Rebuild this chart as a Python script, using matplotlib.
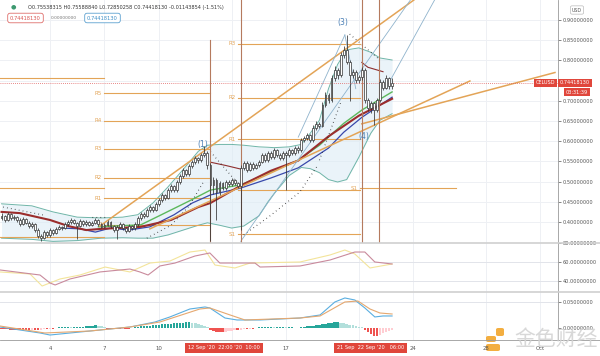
import numpy as np
import matplotlib.pyplot as plt
from matplotlib.patches import FancyBboxPatch

# === CELUSD 4h candles, 1 Sep - 22 Sep 2020 (index 0 = 1 Sep 08:00) ===
first_open = 0.410
close = [0.415, 0.405, 0.420, 0.410, 0.413, 0.405, 0.395, 0.408, 0.398, 0.390,
         0.395, 0.380, 0.365, 0.360, 0.375, 0.368, 0.380, 0.373, 0.383, 0.388,
         0.385, 0.395, 0.400, 0.405, 0.398, 0.390, 0.403, 0.395, 0.400, 0.393,
         0.398, 0.405, 0.395, 0.388, 0.393, 0.400, 0.390, 0.380, 0.388, 0.395,
         0.385, 0.378, 0.390, 0.385, 0.395, 0.410, 0.420, 0.415, 0.430, 0.437,
         0.430, 0.445, 0.455, 0.467, 0.460, 0.479, 0.489, 0.479, 0.499, 0.514,
         0.529, 0.519, 0.539, 0.549, 0.558, 0.553, 0.566, 0.571, 0.541, 0.492,
         0.504, 0.474, 0.497, 0.484, 0.499, 0.494, 0.504, 0.497, 0.489, 0.534,
         0.546, 0.529, 0.544, 0.534, 0.541, 0.549, 0.566, 0.553, 0.571, 0.561,
         0.578, 0.566, 0.558, 0.571, 0.566, 0.578, 0.571, 0.583, 0.578, 0.603,
         0.608, 0.615, 0.603, 0.633, 0.643, 0.638, 0.690, 0.714, 0.702, 0.756,
         0.776, 0.764, 0.813, 0.826, 0.796, 0.764, 0.771, 0.751, 0.759, 0.776,
         0.702, 0.682, 0.694, 0.677, 0.702, 0.747, 0.732, 0.756, 0.737, 0.744]
high = [0.422, 0.418, 0.425, 0.423, 0.418, 0.416, 0.409, 0.412, 0.411, 0.402,
        0.400, 0.398, 0.384, 0.370, 0.379, 0.378, 0.384, 0.383, 0.387, 0.392,
        0.391, 0.399, 0.405, 0.410, 0.408, 0.401, 0.407, 0.406, 0.404, 0.403,
        0.402, 0.409, 0.407, 0.398, 0.397, 0.404, 0.403, 0.393, 0.392, 0.399,
        0.398, 0.388, 0.394, 0.393, 0.399, 0.414, 0.425, 0.424, 0.434, 0.442,
        0.440, 0.450, 0.460, 0.472, 0.470, 0.484, 0.494, 0.492, 0.503, 0.519,
        0.534, 0.532, 0.544, 0.554, 0.564, 0.562, 0.572, 0.588, 0.575, 0.545,
        0.512, 0.508, 0.502, 0.500, 0.504, 0.503, 0.508, 0.507, 0.500, 0.540,
        0.552, 0.550, 0.549, 0.548, 0.546, 0.554, 0.571, 0.570, 0.576, 0.575,
        0.583, 0.581, 0.570, 0.576, 0.575, 0.583, 0.581, 0.588, 0.587, 0.608,
        0.614, 0.621, 0.619, 0.639, 0.649, 0.648, 0.697, 0.722, 0.720, 0.764,
        0.785, 0.782, 0.822, 0.835, 0.862, 0.800, 0.778, 0.776, 0.765, 0.783,
        0.780, 0.708, 0.700, 0.698, 0.708, 0.755, 0.752, 0.763, 0.760, 0.756]
low = [0.404, 0.400, 0.402, 0.406, 0.405, 0.400, 0.390, 0.392, 0.394, 0.385,
       0.386, 0.376, 0.360, 0.354, 0.357, 0.362, 0.364, 0.369, 0.370, 0.379,
       0.380, 0.382, 0.391, 0.396, 0.394, 0.357, 0.387, 0.391, 0.391, 0.389,
       0.390, 0.395, 0.391, 0.384, 0.385, 0.390, 0.386, 0.376, 0.357, 0.385,
       0.381, 0.372, 0.375, 0.380, 0.381, 0.390, 0.406, 0.410, 0.412, 0.425,
       0.425, 0.427, 0.440, 0.450, 0.454, 0.456, 0.474, 0.474, 0.475, 0.494,
       0.509, 0.514, 0.515, 0.534, 0.544, 0.547, 0.549, 0.560, 0.530, 0.352,
       0.470, 0.405, 0.468, 0.478, 0.480, 0.488, 0.490, 0.492, 0.484, 0.380,
       0.528, 0.524, 0.525, 0.529, 0.530, 0.536, 0.545, 0.548, 0.549, 0.556,
       0.557, 0.561, 0.553, 0.554, 0.480, 0.561, 0.566, 0.567, 0.572, 0.574,
       0.598, 0.603, 0.598, 0.599, 0.628, 0.632, 0.634, 0.684, 0.695, 0.698,
       0.748, 0.755, 0.758, 0.805, 0.790, 0.700, 0.757, 0.745, 0.744, 0.752,
       0.695, 0.675, 0.670, 0.640, 0.672, 0.698, 0.726, 0.728, 0.730, 0.729]

# === Indicator lines (index, value) ===
bb_idx = [0, 10, 17, 25, 33, 40, 45, 50, 55, 60, 65, 68, 72, 76, 80, 85, 88, 90, 95,
          99, 102, 105, 108, 111, 114, 118, 122, 125, 129]
bb_upper = [0.445, 0.440, 0.425, 0.412, 0.410, 0.412, 0.418, 0.447, 0.487, 0.530,
            0.575, 0.590, 0.592, 0.592, 0.590, 0.586, 0.585, 0.584, 0.586, 0.592,
            0.620, 0.652, 0.730, 0.790, 0.826, 0.831, 0.820, 0.806, 0.801]
bb_lower = [0.360, 0.357, 0.352, 0.354, 0.360, 0.361, 0.360, 0.360, 0.368, 0.380,
            0.392, 0.398, 0.392, 0.385, 0.390, 0.415, 0.450, 0.470, 0.515, 0.535,
            0.532, 0.522, 0.505, 0.499, 0.505, 0.560, 0.620, 0.652, 0.668]

ma_red_idx = [0, 6, 16, 22, 28, 33, 46, 56, 65, 69, 79, 89, 98, 108, 118, 129]
ma_red = [0.425, 0.422, 0.405, 0.390, 0.380, 0.383, 0.388, 0.405, 0.437, 0.447,
          0.490, 0.527, 0.552, 0.612, 0.663, 0.705]
ma_green_idx = [32, 46, 52, 62, 69, 79, 89, 98, 105, 113, 119, 129]
ma_green = [0.388, 0.393, 0.415, 0.452, 0.479, 0.492, 0.524, 0.553, 0.590, 0.644,
            0.677, 0.722]
ma_blue_idx = [20, 26, 31, 36, 42, 49, 57, 63, 69, 79, 89, 98, 108, 113, 119, 129]
ma_blue = [0.385, 0.383, 0.375, 0.385, 0.380, 0.388, 0.418, 0.447, 0.467, 0.484,
           0.509, 0.534, 0.583, 0.622, 0.659, 0.709]
# anchored vwap pieces (restart at the vertical lines)
vwap_runs = [([69, 74, 79], [0.548, 0.540, 0.531]),
             ([119, 121, 126], [0.795, 0.783, 0.772])]

# parabolic SAR runs: (index list, value list)
sar_runs = [([0.5, 14], [0.437, 0.417]),
            ([30, 35], [0.412, 0.412]),
            ([48, 56, 62, 67], [0.360, 0.392, 0.440, 0.503]),
            ([69, 79], [0.574, 0.487]),
            ([80, 89, 98.5, 104.5], [0.368, 0.417, 0.474, 0.541]),
            ([105, 112], [0.553, 0.695]),
            ([115, 125], [0.865, 0.801])]

# === Drawings: pivots, trend lines, fan lines, verticals ===
pivot_sets = [
    (-1, 34, [("", 0.484), ("", 0.363), ("", 0.756)]),
    (34, 69, [("R5", 0.719), ("R4", 0.650), ("R3", 0.581), ("R2", 0.510),
              ("R1", 0.459), ("P", 0.393)]),
    (78, 118.5, [("R3", 0.841), ("R2", 0.707), ("R1", 0.605), ("", 0.479),
                 ("S1", 0.370)]),
    (118.5, 150, [("S1", 0.484)]),
]
trend_lines = [([32.5, 136.2], [0.390, 0.9495]),
               ([49, 154.7], [0.383, 0.749]),
               ([119, 182.8], [0.643, 0.770])]
fan_lines = [([79, 135], [0.352, 0.949]),
             ([98, 113.4], [0.610, 0.863]),
             ([113.4, 117], [0.863, 0.730]),
             ([128, 143], [0.745, 0.949])]
vlines = [(68.9, 0.851), (79.1, 0.949), (119, 0.949), (124.7, 0.949)]
wave_labels = [("(1)", 66.5, 0.592), ("(3)", 112.8, 0.895), ("(4)", 119.7, 0.611)]

# === RSI pane ===
rsi_pink_idx = [-0.5, 12.7, 16, 17.7, 22.6, 32.5, 42.4, 45.7, 48.4, 52.3, 57.3, 63.9,
                68.8, 72.1, 83.7, 85.4, 98.6, 108.5, 116.7, 120, 123.3, 129]
rsi_pink = [51.6, 46.3, 37.9, 35.8, 42.1, 49.5, 52.6, 49.5, 46.3, 55.8, 58.9, 66.3,
            69.5, 58.9, 58.9, 54.7, 55.8, 62.1, 70.5, 70.5, 60.0, 57.9]
rsi_yel_idx = [-0.5, 9.4, 13.4, 19.3, 25.9, 34.2, 42.4, 49, 55.6, 62.2, 67.2, 70.5,
               77.1, 82.1, 98.6, 108.5, 113.4, 116.7, 121.7, 129]
rsi_yel = [49.5, 47.4, 34.7, 42.1, 46.3, 54.7, 49.5, 58.9, 61.0, 70.5, 72.6, 56.8,
           53.7, 58.9, 60.0, 67.4, 72.6, 68.4, 53.7, 57.9]

# === MACD pane ===
macd_idx = [-0.5, 12.7, 16, 29.2, 42.4, 50.7, 55.6, 62.2, 67.2, 68.8, 73.8, 77.8,
            85.4, 98.6, 105.2, 110.1, 113.4, 116.7, 120, 123.3, 126, 129]
macd_line = [0.0019, -0.0096, -0.0135, -0.0058, 0.0019, 0.0115, 0.0212, 0.0365,
             0.0404, 0.0385, 0.0192, 0.0154, 0.0154, 0.0192, 0.0250, 0.0500,
             0.0577, 0.0538, 0.0385, 0.0212, 0.0231, 0.0231]
signal_idx = [-0.5, 14.3, 29.2, 42.4, 52.3, 65.5, 68.8, 75.5, 80.4, 98.6, 105.2,
              113.4, 117.7, 121.7, 125, 129]
signal_line = [0.0038, -0.0096, -0.0058, 0.0019, 0.0115, 0.0365, 0.0385, 0.0250,
               0.0154, 0.0192, 0.0231, 0.0500, 0.0519, 0.0365, 0.0288, 0.0269]
hist = [-1, -2, -2, -3, -3, -3, -3, -4, -4, -4, -3, -3, -4, -3, -2, -2, -1, -1, 0, 1,
        1, 2, 2, 1, 1, 1, 2, 2, 3, 3, 4, 5, 4, 3, 1, -1, -1, -2, -2, -2,
        -1, -1, -1, 0, 1, 2, 3, 3, 4, 4, 5, 6, 6, 7, 7, 8, 8, 9, 9, 10,
        10, 11, 11, 10, 9, 8, 6, 4, 1, -3, -5, -7, -8, -8, -7, -6, -5, -4, -4, -3,
        -2, -2, -1, -1, 0, 1, 1, 2, 2, 2, 1, 1, 2, 2, 1, 1, 1, 0, 0, 1,
        2, 3, 3, 4, 5, 6, 7, 8, 9, 10, 11, 11, 10, 9, 7, 6, 5, 3, 2, 1,
        -4, -8, -12, -15, -16, -14, -10, -7, -5, -3]

# time axis
tick_idx = [16, 34, 52, 94, 136, 160, 178]
tick_lab = ["4", "7", "10", "17", "24", "28", "Oct"]
grid_idx = tick_idx + [76, 118]
price_grid = [0.40, 0.45, 0.50, 0.55, 0.60, 0.65, 0.70, 0.75, 0.80, 0.85, 0.90]
price_ticks = [0.40, 0.45, 0.50, 0.55, 0.60, 0.65, 0.70, 0.80, 0.85, 0.90]  # 0.75 hidden by price tag
last_price = 0.74418130

# === Style ===
W, H = 600, 356
GRID = "#eef0f4"
ORANGE = "#e3a457"
TXT = "#555555"
RED = "#e0463b"
XMIN, XMAX = -0.51, 183.8
FS = 3.6


def fx(x):
    return x / W


def fy(y):
    return 1 - y / H


fig = plt.figure(figsize=(6.0, 3.56), dpi=100)
ax = fig.add_axes([0, fy(243), fx(558), 243 / H])
ax_rsi = fig.add_axes([0, fy(292), fx(558), 49 / H])
ax_macd = fig.add_axes([0, fy(340), fx(558), 48 / H])

for a in (ax, ax_rsi, ax_macd):
    a.set_xlim(XMIN, XMAX)
    a.yaxis.tick_right()
    a.tick_params(axis="y", labelsize=FS, colors=TXT, length=2, width=0.5, pad=1.5)
    a.tick_params(axis="x", length=0)
    for side in ("top", "left", "bottom"):
        a.spines[side].set_visible(False)
    a.spines["right"].set_color("#9a9a9a")
    a.spines["right"].set_linewidth(0.6)
    for g in grid_idx:
        a.axvline(g, color=GRID, lw=0.7, zorder=0)
    a.set_xticks([])

# --- main pane ---
ax.set_ylim(0.348, 0.9495)
ax.set_yticks(price_ticks)
ax.set_yticklabels([f"{p:.8f}" for p in price_ticks])
for p in price_grid:
    ax.axhline(p, color=GRID, lw=0.7, zorder=0)

idx = np.arange(len(close))
opens = [first_open] + close[:-1]

ax.fill_between(bb_idx, bb_lower, bb_upper, color="#dcecf5", alpha=0.6, lw=0, zorder=1)
ax.plot(bb_idx, bb_upper, color="#6fb5a8", lw=0.7, zorder=2)
ax.plot(bb_idx, bb_lower, color="#6fb5a8", lw=0.7, zorder=2)

for s, e, levels in pivot_sets:
    for name, v in levels:
        ax.plot([s, e], [v, v], color=ORANGE, lw=0.8, zorder=2)
        if name:
            ax.text(s - 0.8, v, name, color=ORANGE, fontsize=4.0, ha="right", va="center", zorder=2)

ax.plot(ma_blue_idx, ma_blue, color="#3949ab", lw=0.9, zorder=3)
ax.plot(ma_green_idx, ma_green, color="#5cb85c", lw=1.0, zorder=3)
ax.plot(ma_red_idx, ma_red, color="#9b2d2d", lw=1.5, zorder=3)
for xs, ys in vwap_runs:
    ax.plot(xs, ys, color="#8e2f2f", lw=0.8, zorder=3)

for xs, ys in sar_runs:
    ax.plot(xs, ys, color="#222222", lw=0.8, linestyle=(0, (0.6, 3.0)), zorder=4)

for xs, ys in trend_lines:
    ax.plot(xs, ys, color=ORANGE, lw=1.1, zorder=4)
for xs, ys in fan_lines:
    ax.plot(xs, ys, color="#8fb3cc", lw=0.6, zorder=4)
for vx, top in vlines:
    ax.plot([vx, vx], [0.348, top], color="#b57a5e", lw=0.8, zorder=4)

# candles
body_lo = np.minimum(opens, close)
body_h = np.maximum(np.abs(np.array(close) - np.array(opens)), 0.0015)
ax.vlines(idx, low, high, color="#333333", lw=0.55, zorder=5)
ax.bar(idx, body_h, bottom=body_lo, width=0.62, color="white", edgecolor="#333333",
       linewidth=0.5, zorder=6)

ax.axhline(last_price, color="#e06060", lw=0.6, linestyle=(0, (1, 1.5)), zorder=5)

for t, xi, yv in wave_labels:
    ax.text(xi, yv, t, color="#4a7fb5", fontsize=5.5, ha="center", va="center", zorder=7)

# --- RSI pane ---
ax_rsi.set_ylim(28.4, 80.0)
ax_rsi.set_yticks([40, 60, 80])
ax_rsi.set_yticklabels(["40.00000000", "60.00000000", "80.00000000"])
for v in (40, 60):
    ax_rsi.axhline(v, color="#e2e4ea", lw=0.7, zorder=0)
ax_rsi.plot(rsi_yel_idx, rsi_yel, color="#f3e49a", lw=0.8)
ax_rsi.plot(rsi_pink_idx, rsi_pink, color="#c98a9c", lw=0.8)

# --- MACD pane ---
ax_macd.set_ylim(-0.0231, 0.0692)
ax_macd.set_yticks([0.0, 0.05])
ax_macd.set_yticklabels(["0.00000000", "0.05000000"])
ax_macd.axhline(0.05, color="#e2e4ea", lw=0.7, zorder=0)
hv = np.array(hist) / 1000.0
cols = []
for i, v in enumerate(hv):
    prev = hv[i - 1] if i > 0 else v
    if v >= 0:
        cols.append("#26a69a" if v >= prev else "#b2dfdb")
    else:
        cols.append("#ef5350" if v <= prev else "#ffcdd2")
ax_macd.bar(idx, hv, width=0.8, color=cols, zorder=2)
ax_macd.plot(macd_idx, macd_line, color="#5aaee0", lw=0.8, zorder=3)
ax_macd.plot(signal_idx, signal_line, color="#e5a870", lw=0.8, zorder=3)

# separators and bottom axis
for y in (243, 292):
    fig.add_artist(plt.Line2D([0, 1], [fy(y), fy(y)], color="#d0d0d0", lw=1.2))
fig.add_artist(plt.Line2D([0, 1], [fy(340), fy(340)], color="#9a9a9a", lw=0.6))

x_to_px = lambda i: (i - XMIN) / (XMAX - XMIN) * 558
for i, lab in zip(tick_idx, tick_lab):
    fig.text(fx(x_to_px(i)), fy(348), lab, fontsize=FS + 0.3, color=TXT, ha="center", va="center")

# red time labels of the vertical lines
box = dict(boxstyle="square,pad=0.55", fc=RED, ec="none")
fig.text(fx(224), fy(348), "12 Sep '20  22:00 '20  10:00", fontsize=FS, color="white",
         ha="center", va="center", bbox=box)
fig.text(fx(370.5), fy(348), "21 Sep  22 Sep '20   06:00", fontsize=FS, color="white",
         ha="center", va="center", bbox=box)

# price labels on the right
small = dict(boxstyle="square,pad=0.35", fc=RED, ec="none")
fig.text(fx(555.5), fy(83), "CELUSD", fontsize=FS, color="white", ha="right", va="center", bbox=small)
fig.text(fx(560), fy(83), f"{last_price:.8f}", fontsize=FS, color="white", ha="left",
         va="center", bbox=small)
fig.text(fx(566), fy(92), "03:31:39", fontsize=FS, color="white", ha="left", va="center", bbox=small)
fig.text(fx(577), fy(10), "USD", fontsize=3.4, color=TXT, ha="center", va="center",
         bbox=dict(boxstyle="round,pad=0.35", fc="white", ec="#bbbbbb", lw=0.5))

# header
fig.text(fx(13), fy(7), "●", fontsize=4.5, color="#3d9970", ha="center", va="center")
fig.text(fx(28), fy(7), "O0.75538315 H0.75588840 L0.72850258 C0.74418130 -0.01143854 (-1.51%)",
         fontsize=FS, color="#333333", ha="left", va="center")
fig.text(fx(25.5), fy(18), "0.74418130", fontsize=FS + 0.1, color="#d9534f", ha="center", va="center",
         bbox=dict(boxstyle="round,pad=0.45", fc="white", ec="#d9534f", lw=0.5))
fig.text(fx(64), fy(18), "0.00000000", fontsize=3.2, color="#777777", ha="center", va="center")
fig.text(fx(102.5), fy(18), "0.74418130", fontsize=FS + 0.1, color="#3d8fc7", ha="center", va="center",
         bbox=dict(boxstyle="round,pad=0.45", fc="white", ec="#3d8fc7", lw=0.5))

# watermark
for (x0, y0, w, h) in [(486, 344, 14, 7), (486, 336, 10, 6), (496, 328, 8, 8)]:
    fig.add_artist(FancyBboxPatch((fx(x0), fy(y0 + h)), fx(w), h / H,
                                  boxstyle="round,pad=0,rounding_size=0.004",
                                  fc="#f2a52b", ec="none", alpha=0.9))
fig.text(fx(556), fy(339), "金色财经", fontsize=15, color="#d4d4d4", ha="center", va="center",
         family=["Noto Sans CJK SC", "DejaVu Sans"], alpha=0.9)

fig.savefig("out.png", dpi=100)
